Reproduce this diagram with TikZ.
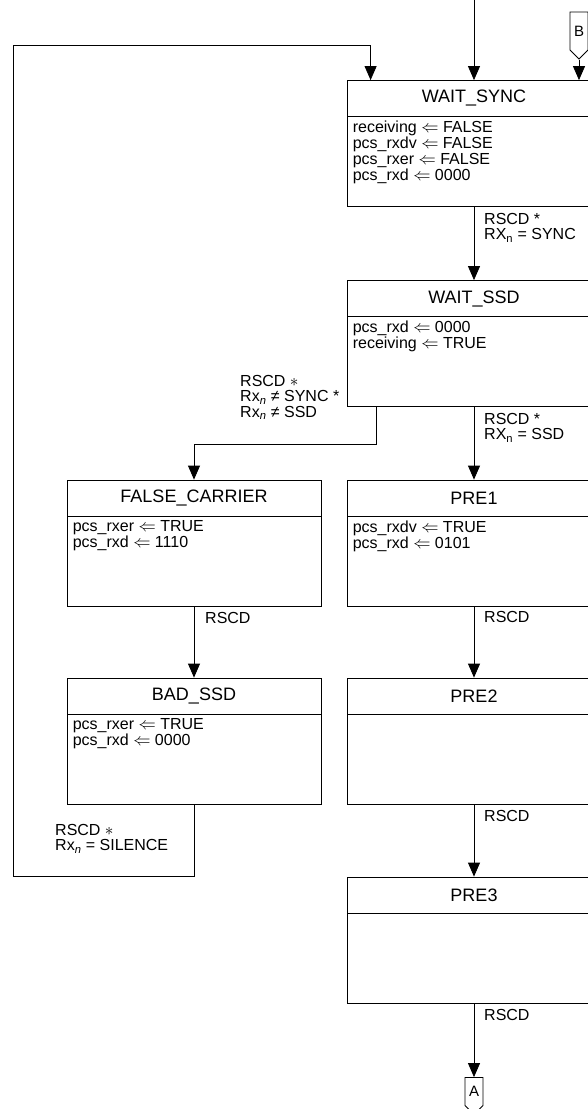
\documentclass[tikz,border=0pt]{standalone}
\usepackage{fontspec}
\setmainfont{Liberation Sans}
\usetikzlibrary{arrows.meta,shapes.symbols}

\begin{document}
\begin{tikzpicture}[x=1pt, y=-1pt,
		hd/.style = {rectangle,	draw,	line width=0.8pt,	minimum width=254, minimum height=36, inner sep=0pt, font=\fontsize{18}{18}\selectfont},
		bd/.style = {rectangle,	draw,	line width=0.8pt,	minimum width=254, minimum height=90, inner sep=0pt},
		tx/.style = {anchor=north west,	align=left,	inner sep=0pt,	font=\fontsize{16}{15.8}\selectfont},
		lb/.style = {anchor=north west,	align=left,	inner sep=0pt,	font=\fontsize{16}{15.5}\selectfont},
		cn/.style = {signal, signal to=south, draw, line width=0.8pt, minimum width=18, minimum height=44, inner sep=1pt, font=\fontsize{15}{15}\selectfont},
		r/.style = {-{Triangle[width=12pt, length=14pt]}, line width=0.8pt}
		]
		\clip (0,0) rectangle (588,1109);
		
		%States
		\node[hd]	(synch)	at	(474, 98.5)	{WAIT\_SYNC};
		\node[bd]	(syncb)	at	(474, 161.5)	{};
		\node[tx]	(synct)	at	([xshift=6pt, yshift=-5pt]syncb.north west)	{receiving $\Leftarrow$ FALSE\\pcs\_rxdv $\Leftarrow$ FALSE\\pcs\_rxer $\Leftarrow$ FALSE\\pcs\_rxd $\Leftarrow$ 0000};
		
		\node[hd]	(ssdh)	at	(474, 298.5)	{WAIT\_SSD};
		\node[bd]	(ssdb)	at	(474, 361.5)	{};
		\node[tx]	(ssdt)	at	([xshift=6pt, yshift=-5pt]ssdb.north west)	{pcs\_rxd $\Leftarrow$ 0000\\receiving $\Leftarrow$ TRUE};
		
		\node[hd]	(fch)	at	(194, 498)	{FALSE\_CARRIER};
		\node[bd]	(fcb)	at	(194, 561)	{};
		\node[tx]	(fct)	at	([xshift=6pt, yshift=-5pt]fcb.north west)	{pcs\_rxer $\Leftarrow$ TRUE\\pcs\_rxd $\Leftarrow$ 1110};
		
		\node[hd]	(pre1h)	at	(474, 498)	{PRE1};
		\node[bd]	(pre1b)	at	(474, 561)	{};
		\node[tx]	(pre1t)	at	([xshift=6pt, yshift=-5pt]pre1b.north west)	{pcs\_rxdv $\Leftarrow$ TRUE\\pcs\_rxd $\Leftarrow$ 0101};
		
		\node[hd]	(badh)	at	(194, 696)	{BAD\_SSD};
		\node[bd]	(badb)	at	(194, 759)	{};
		\node[tx]	(badt)	at	([xshift=6pt, yshift=-5pt]badb.north west)	{pcs\_rxer $\Leftarrow$ TRUE\\pcs\_rxd $\Leftarrow$ 0000};
		
		\node[hd]	(pre2h)	at	(474, 696)	{PRE2};
		\node[bd]	(pre2b)	at	(474, 759)	{};
		
		\node[hd]	(pre3h)	at	(474, 895)	{PRE3};
		\node[bd]	(pre3b)	at	(474, 958)	{};
		
		%Connectors
		\node[cn]	(B)	at	(579, 31)	{B};
		\node[cn, minimum height=34]	(A)	at	(474, 1091.5)	{A};
		
		\coordinate	(in)	at	(474, 0);
		\coordinate	(ltop)	at	(13, 45);
		\coordinate	(lbot)	at	(13, 876);
		
		%Conditions
		\node[lb]	(c1)	at	(484, 213)	{RSCD *\\RX\textsubscript{n} = SYNC};
		\node[lb]	(c2)	at	(240, 375)	{RSCD $\ast$\\Rx\textsubscript{\itshape n} ≠ SYNC *\\Rx\textsubscript{\itshape n} ≠ SSD};
		\node[lb]	(c3)	at	(484, 413)	{RSCD *\\RX\textsubscript{n} = SSD};
		\node[lb]	(c4)	at	(205, 612)	{RSCD};
		\node[lb]	(c5)	at	(484, 611)	{RSCD};
		\node[lb]	(c6)	at	(484, 810)	{RSCD};
		\node[lb]	(c7)	at	(484, 1009)	{RSCD};
		\node[lb]	(c8)	at	(55, 824)	{RSCD $\ast$\\Rx\textsubscript{\itshape n} = SILENCE};
		
		%Lines
		\draw[r]	(in)	--	(synch.north);
		\draw[r]	(B.south)	--	(B.south |- synch.north);
		\draw[r]	(badb.south)	|-	(lbot)	--	(ltop)	-|	([xshift=24pt]synch.north west);
		\draw[r]	(syncb.south)	--	(ssdh.north);
		\draw[r]	(ssdb.south)	--	(pre1h.north);
		\draw[r]	([xshift=30pt]ssdb.south west)	--	++(0, 37)	-|	(fch.north);
		\draw[r]	(fcb.south)	--	(badh.north);
		\draw[r]	(pre1b.south)	--	(pre2h.north);
		\draw[r]	(pre2b.south)	--	(pre3h.north);
		\draw[r]	(pre3b.south)	--	(A.north);
	\end{tikzpicture}
\end{document}
